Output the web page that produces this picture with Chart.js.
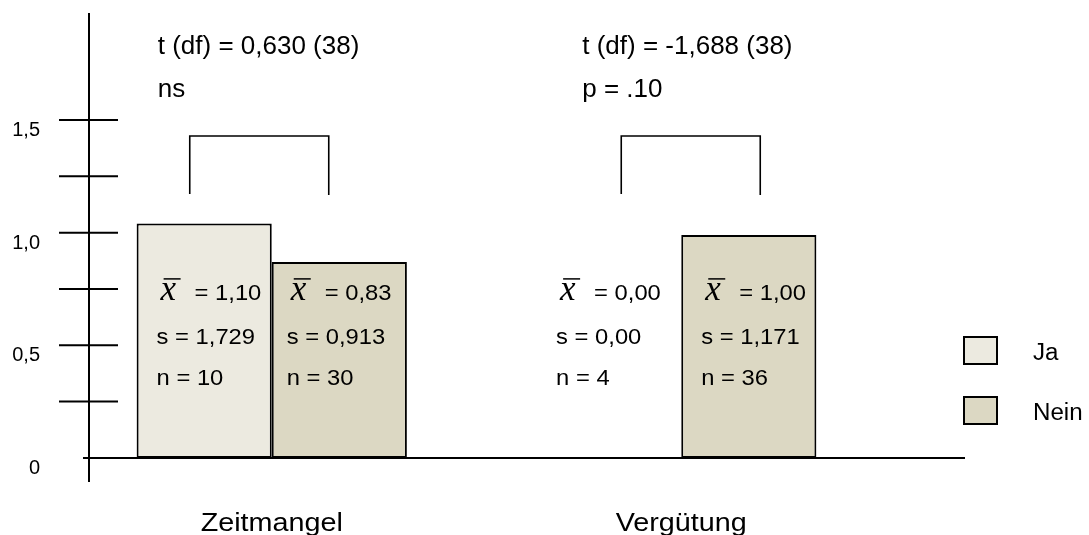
<!DOCTYPE html>
<html lang="de">
<head>
<meta charset="utf-8">
<title>Zeitmangel / Vergütung</title>
<script src="https://cdn.jsdelivr.net/npm/chart.js@4/dist/chart.umd.min.js"></script>
<style>
  html, body { margin: 0; padding: 0; background: #fff; }
  canvas { display: block; }
</style>
</head>
<body>
<canvas id="meanChart" width="1089" height="535"></canvas>
<script>
// categories and groups
const categories = ['Zeitmangel', 'Vergütung'];
const groupLabels = ['Ja', 'Nein'];

// bar heights as drawn in the figure
const jaValues = [1.04, 0];
const neinValues = [0.87, 0.99];

// printed statistics per bar: mean, s, n
const jaStats = [['1,10', '1,729', '10'], ['0,00', '0,00', '4']];
const neinStats = [['0,83', '0,913', '30'], ['1,00', '1,171', '36']];

// t-test lines above each category
const testLines = [['t (df) = 0,630 (38)', 'ns'], ['t (df) = -1,688 (38)', 'p = .10']];

// y axis
const tickValues = [0.25, 0.5, 0.75, 1, 1.25, 1.5];
const labelValues = [0, 0.5, 1, 1.5];
const labelTexts = ['0', '0,5', '1,0', '1,5'];

const FONT = '"Liberation Sans", Arial, sans-serif';

/**
 * Draw text, optionally stretched horizontally like the original figure
 */
function drawText(ctx, text, x, y, size, sx, align) {
    ctx.save();
    ctx.font = size + 'px ' + FONT;
    ctx.fillStyle = '#000';
    ctx.textAlign = align || 'left';
    ctx.textBaseline = 'alphabetic';
    ctx.translate(x, y);
    ctx.scale(sx, 1);
    ctx.fillText(text, 0, 0);
    ctx.restore();
}

const sketchAxes = {
    id: 'sketchAxes',
    afterDatasetsDraw(chart) {
        const ctx = chart.ctx;
        const xs = chart.scales.x;
        const ys = chart.scales.y;
        const area = chart.chartArea;
        const axisX = area.left + 22;
        const zeroY = ys.getPixelForValue(0);

        ctx.save();
        ctx.strokeStyle = '#000';
        ctx.lineWidth = 2;
        ctx.beginPath();
        ctx.moveTo(axisX, area.top);
        ctx.lineTo(axisX, area.bottom);
        ctx.moveTo(axisX - 6, zeroY);
        ctx.lineTo(965, zeroY);
        tickValues.forEach(v => {
            const py = ys.getPixelForValue(v);
            ctx.moveTo(axisX - 30, py);
            ctx.lineTo(axisX + 29, py);
        });
        ctx.stroke();

        // tick labels
        labelValues.forEach((v, i) => {
            drawText(ctx, labelTexts[i], 40, ys.getPixelForValue(v) + 16, 20, 1, 'right');
        });

        // category labels
        categories.forEach((c, i) => {
            drawText(ctx, c, xs.getPixelForValue(i), zeroY + 73, 25, 1.15, 'center');
        });

        // t-test text and brackets
        const textOffset = [-114, -99];
        const bracket = [[-82, 57], [-60, 79]];
        testLines.forEach((lines, i) => {
            const cx = xs.getPixelForValue(i);
            drawText(ctx, lines[0], cx + textOffset[i], 54, 26, 1, 'left');
            drawText(ctx, lines[1], cx + textOffset[i], 97, 26, 1, 'left');
            ctx.lineWidth = 1.6;
            ctx.beginPath();
            ctx.moveTo(cx + bracket[i][0], 194);
            ctx.lineTo(cx + bracket[i][0], 136);
            ctx.lineTo(cx + bracket[i][1], 136);
            ctx.lineTo(cx + bracket[i][1], 195);
            ctx.stroke();
        });

        // statistics inside / above the bars
        const allStats = [jaStats, neinStats];
        const insets = [[20, 10], [15, 20]];
        allStats.forEach((stats, d) => {
            const meta = chart.getDatasetMeta(d);
            stats.forEach((st, i) => {
                const bar = meta.data[i];
                const x0 = bar.x - bar.width / 2 + insets[d][i];
                // x bar symbol
                ctx.save();
                ctx.font = 'italic 35px "Liberation Serif", "Times New Roman", serif';
                ctx.fillStyle = '#000';
                ctx.fillText('x', x0 + 4, zeroY - 158);
                ctx.restore();
                ctx.lineWidth = 1.5;
                ctx.beginPath();
                ctx.moveTo(x0 + 7, zeroY - 179);
                ctx.lineTo(x0 + 24, zeroY - 179);
                ctx.stroke();
                drawText(ctx, '= ' + st[0], x0 + 38, zeroY - 158, 22, 1.08);
                drawText(ctx, 's = ' + st[1], x0, zeroY - 114, 22, 1.08);
                drawText(ctx, 'n = ' + st[2], x0, zeroY - 73, 22, 1.08);
            });
        });

        // legend
        chart.data.datasets.forEach((ds, d) => {
            const top = 337 + d * 60;
            ctx.fillStyle = ds.backgroundColor;
            ctx.fillRect(964, top, 33, 27);
            ctx.lineWidth = 2;
            ctx.strokeRect(964, top, 33, 27);
            drawText(ctx, ds.label, 1033, top + 23, 23, 1.05);
        });
        ctx.restore();
    }
};

const canvas = document.getElementById('meanChart');
new Chart(canvas.getContext('2d'), {
    type: 'bar',
    data: {
        labels: categories,
        datasets: [
            {
                label: groupLabels[0],
                data: jaValues,
                backgroundColor: '#ECEAE0',
                borderColor: '#000',
                borderWidth: 2,
                borderSkipped: false
            },
            {
                label: groupLabels[1],
                data: neinValues,
                backgroundColor: '#DCD8C3',
                borderColor: '#000',
                borderWidth: 2,
                borderSkipped: false
            }
        ]
    },
    options: {
        responsive: false,
        animation: false,
        devicePixelRatio: 1,
        layout: { padding: { left: 67, right: 203, top: 13, bottom: 53 } },
        datasets: { bar: { categoryPercentage: 0.66, barPercentage: 1 } },
        scales: {
            x: { display: false },
            y: { display: false, min: -0.107, max: 1.975 }
        },
        plugins: {
            legend: { display: false },
            tooltip: { enabled: false }
        }
    },
    plugins: [sketchAxes]
});
</script>
</body>
</html>
